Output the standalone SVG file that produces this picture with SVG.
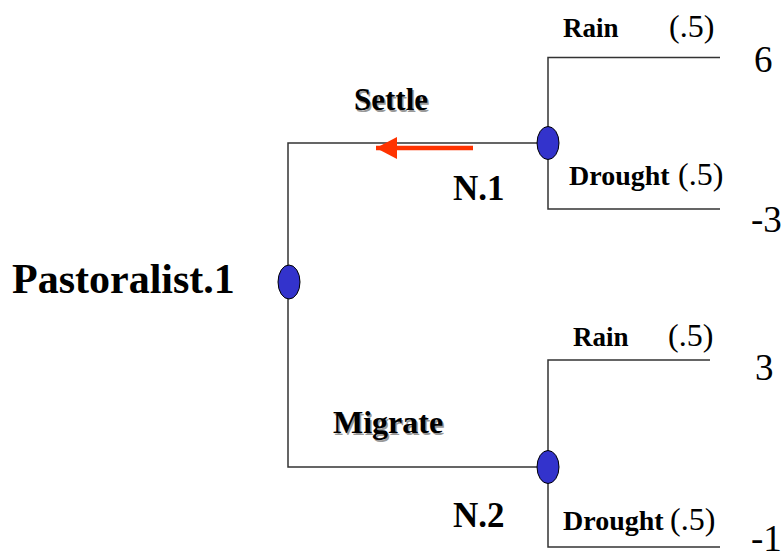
<svg xmlns="http://www.w3.org/2000/svg" width="783" height="558" viewBox="0 0 783 558">
<style>
.edge{fill:none;stroke:#333;stroke-width:1.5}
.node{fill:#3333CC;stroke:#000;stroke-width:1}
text{font-family:'Liberation Serif','DejaVu Serif',serif;fill:#000}
.lb{font-weight:bold}
.sh{fill:#999}
</style>
<defs>
<marker id="ah" markerUnits="userSpaceOnUse" markerWidth="22" markerHeight="22" refX="21" refY="11" orient="auto">
<polygon points="0,0 21,11 0,22" fill="#FF3300"/>
</marker>
</defs>
<rect width="783" height="558" fill="#fff"/>
<g id="connectors">
<polyline class="edge" points="548,143 288,143 288,467 548,467"/>
<polyline class="edge" points="720,57.5 548,57.5 548,209 720,209"/>
<polyline class="edge" points="710,360 548,360 548,547 720,547"/>
<line x1="473" y1="148" x2="376" y2="148" stroke="#FF3300" stroke-width="4.5" marker-end="url(#ah)"/>
</g>
<g id="pastoralist1">
<ellipse class="node" cx="289" cy="282" rx="11" ry="17"/>
<text class="lb" x="12" y="293" font-size="42">Pastoralist.1</text>
</g>
<g id="n1">
<ellipse class="node" cx="548" cy="143" rx="11" ry="16.5"/>
<text class="lb" x="453" y="200" font-size="35">N.1</text>
</g>
<g id="n2">
<ellipse class="node" cx="548" cy="467" rx="11" ry="16.5"/>
<text class="lb" x="453" y="527" font-size="35">N.2</text>
</g>
<g id="labels">
<text class="lb sh" x="355.5" y="111.5" font-size="31">Settle</text>
<text class="lb" x="354" y="110" font-size="31">Settle</text>
<text class="lb sh" x="334.5" y="434.5" font-size="32">Migrate</text>
<text class="lb" x="333" y="433" font-size="32">Migrate</text>
<text class="lb" x="563" y="37" font-size="27">Rain</text>
<text x="669" y="37" font-size="32">(.5)</text>
<text class="lb" x="569" y="185" font-size="28">Drought</text>
<text x="678" y="185" font-size="32">(.5)</text>
<text class="lb" x="573" y="346" font-size="27">Rain</text>
<text x="668" y="346" font-size="32">(.5)</text>
<text class="lb" x="563" y="530" font-size="28">Drought</text>
<text x="670" y="530" font-size="32">(.5)</text>
</g>
<g id="payoffs">
<text x="754" y="72" font-size="37">6</text>
<text x="751" y="232" font-size="37">-3</text>
<text x="755" y="380" font-size="37">3</text>
<text x="751" y="551" font-size="37">-1</text>
</g>
</svg>
